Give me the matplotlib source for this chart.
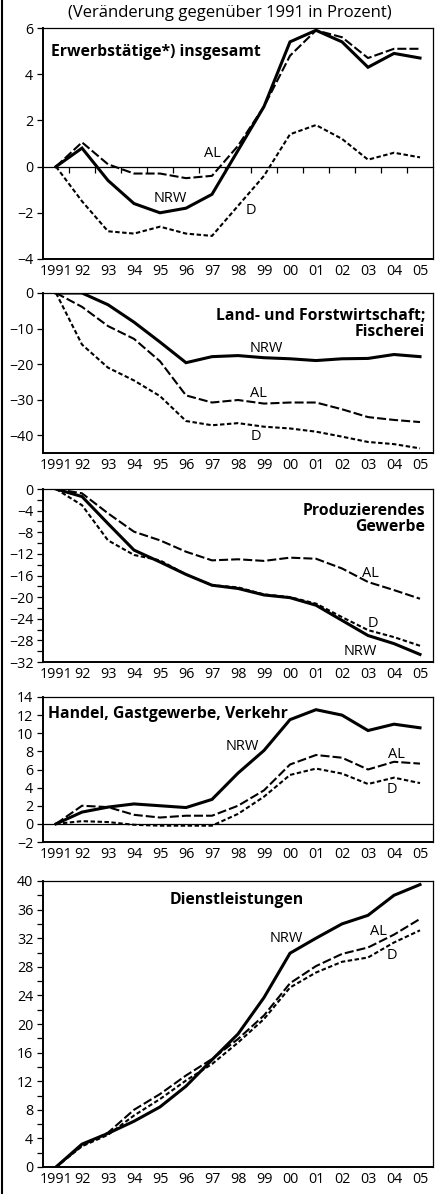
import matplotlib
matplotlib.use("Agg")
import matplotlib.pyplot as plt
from matplotlib.lines import Line2D
from matplotlib.ticker import MultipleLocator, FixedLocator, NullFormatter

plt.rcParams['font.family'] = ['Open Sans', 'DejaVu Sans']
plt.rcParams['lines.scale_dashes'] = False

years = ["1991", "92", "93", "94", "95", "96", "97", "98", "99", "00", "01", "02", "03", "04", "05"]

# Panel 1: Erwerbstätige insgesamt
p1_nrw = [0, 0.8, -0.6, -1.6, -2.0, -1.8, -1.2, 0.7, 2.6, 5.4, 5.9, 5.4, 4.3, 4.9, 4.7]
p1_al = [0, 1.05, 0.1, -0.3, -0.3, -0.5, -0.4, 0.9, 2.6, 4.8, 5.9, 5.6, 4.7, 5.1, 5.1]
p1_d = [0, -1.5, -2.8, -2.9, -2.6, -2.9, -3.0, -1.7, -0.4, 1.4, 1.8, 1.2, 0.3, 0.6, 0.4]

# Panel 2: Land- und Forstwirtschaft; Fischerei
p2_nrw = [0, 0, -3.3, -8.2, -13.8, -19.6, -17.9, -17.6, -18.2, -18.5, -19.0, -18.5, -18.4, -17.3, -17.9]
p2_al = [0, -3.9, -9.3, -12.9, -19.2, -28.8, -30.8, -30.1, -31.1, -30.8, -30.8, -32.7, -34.9, -35.7, -36.3]
p2_d = [0, -14.5, -21.0, -24.6, -29.0, -36.0, -37.2, -36.6, -37.6, -38.1, -39.0, -40.4, -41.9, -42.5, -43.7]

# Panel 3: Produzierendes Gewerbe
p3_nrw = [0, -1.4, -6.4, -11.3, -13.5, -15.8, -17.8, -18.4, -19.6, -20.1, -21.5, -24.3, -27.1, -28.6, -30.6]
p3_al = [0, -0.8, -4.5, -7.9, -9.5, -11.6, -13.2, -13.0, -13.3, -12.7, -12.9, -14.7, -17.2, -18.7, -20.3]
p3_d = [0, -3.0, -9.5, -12.2, -13.2, -15.8, -17.8, -18.2, -19.5, -20.0, -21.2, -23.7, -26.1, -27.4, -29.0]

# Panel 4: Handel, Gastgewerbe, Verkehr
p4_nrw = [0, 1.3, 1.85, 2.2, 2.0, 1.8, 2.7, 5.6, 8.1, 11.5, 12.6, 12.0, 10.3, 11.0, 10.6]
p4_al = [0, 2.0, 1.85, 1.0, 0.7, 0.9, 0.9, 2.0, 3.7, 6.55, 7.6, 7.3, 6.0, 6.85, 6.65]
p4_d = [0, 0.3, 0.2, -0.1, -0.2, -0.2, -0.2, 1.1, 3.0, 5.4, 6.1, 5.55, 4.4, 5.1, 4.5]

# Panel 5: Dienstleistungen
p5_nrw = [0, 3.2, 4.7, 6.4, 8.4, 11.3, 15.0, 18.6, 23.7, 29.9, 32.0, 34.0, 35.2, 38.0, 39.5]
p5_al = [0, 3.0, 4.8, 8.0, 10.2, 12.8, 15.1, 17.9, 21.2, 25.7, 28.1, 29.8, 30.7, 32.5, 34.7]
p5_d = [0, 2.9, 4.5, 7.2, 9.5, 12.1, 14.4, 17.4, 20.7, 25.1, 27.2, 28.7, 29.3, 31.4, 33.1]

W, H = 436, 1194
fig = plt.figure(figsize=(W / 100, H / 100), dpi=100)

def px_axes(top, bottom, left=43, right=433):
    return fig.add_axes([left / W, 1 - bottom / H, (right - left) / W, (bottom - top) / H])

x = list(range(len(years)))
FS = 10.3      # tick labels
LFS = 10.5     # series labels
BFS = 11.3     # bold panel titles

def setup(ax, ylim, major, minor=None):
    ax.set_xlim(-0.5, len(years) - 0.5)
    ax.set_ylim(*ylim)
    ax.set_xticks(x)
    ax.set_xticklabels(years, fontsize=FS)
    ax.tick_params(axis='x', length=0, pad=3.5)
    ax.yaxis.set_major_locator(MultipleLocator(major))
    if minor:
        ax.yaxis.set_minor_locator(MultipleLocator(minor))
    ax.tick_params(axis='y', which='both', length=4.5, width=0.9, direction='out', pad=2.5, labelsize=FS)
    for s in ['left', 'bottom']:
        ax.spines[s].set_linewidth(1.4)
    for s in ['top', 'right']:
        ax.spines[s].set_linewidth(0.9)
    ax.set_facecolor('white')

def draw(ax, nrw, al, d):
    ax.plot(x, d, color='black', lw=1.5, dashes=(3.2, 1.8), solid_capstyle='butt')
    ax.plot(x, al, color='black', lw=1.5, dashes=(6.5, 2.2))
    ax.plot(x, nrw, color='black', lw=2.2, solid_joinstyle='miter')

# Panel 1
ax1 = px_axes(28, 259)
setup(ax1, (-4, 6), 2)
draw(ax1, p1_nrw, p1_al, p1_d)
sec = ax1.secondary_xaxis(0.4)
sec.xaxis.set_major_locator(FixedLocator([i + 0.5 for i in x[:-1]]))
sec.xaxis.set_major_formatter(NullFormatter())
sec.tick_params(axis='x', length=4, width=0.9, direction='out')
sec.spines['bottom'].set_linewidth(0.9)
ax1.text(-0.2, 4.95, "Erwerbstätige*) insgesamt", fontsize=BFS, fontweight='bold', va='center', ha='left')
ax1.text(6.0, 0.56, "AL", fontsize=LFS, ha='center', va='center')
ax1.text(4.4, -1.4, "NRW", fontsize=LFS, ha='center', va='center')
ax1.text(7.5, -1.9, "D", fontsize=LFS, ha='center', va='center')

# Panel 2
ax2 = px_axes(293, 453)
setup(ax2, (-45, 0), 10)
draw(ax2, p2_nrw, p2_al, p2_d)
ax2.text(14.2, -8.8, "Land- und Forstwirtschaft;\nFischerei", fontsize=BFS, fontweight='bold',
         ha='right', va='center', multialignment='right', linespacing=1.0)
ax2.text(8.1, -15.7, "NRW", fontsize=LFS, ha='center', va='center')
ax2.text(7.8, -28.3, "AL", fontsize=LFS, ha='center', va='center')
ax2.text(7.7, -40.3, "D", fontsize=LFS, ha='center', va='center')

# Panel 3
ax3 = px_axes(489, 662)
setup(ax3, (-32, 0), 4, 2)
draw(ax3, p3_nrw, p3_al, p3_d)
ax3.text(14.2, -5.5, "Produzierendes\nGewerbe", fontsize=BFS, fontweight='bold',
         ha='right', va='center', multialignment='right', linespacing=1.0)
ax3.text(12.1, -15.7, "AL", fontsize=LFS, ha='center', va='center')
ax3.text(12.2, -24.8, "D", fontsize=LFS, ha='center', va='center')
ax3.text(11.7, -30.1, "NRW", fontsize=LFS, ha='center', va='center')

# Panel 4
ax4 = px_axes(697, 842)
setup(ax4, (-2, 14), 2)
ax4.axhline(0, color='black', lw=0.9)
draw(ax4, p4_nrw, p4_al, p4_d)
ax4.text(-0.3, 12.1, "Handel, Gastgewerbe, Verkehr", fontsize=BFS, fontweight='bold', ha='left', va='center')
ax4.text(7.15, 8.5, "NRW", fontsize=LFS, ha='center', va='center')
ax4.text(13.1, 7.7, "AL", fontsize=LFS, ha='center', va='center')
ax4.text(12.9, 3.75, "D", fontsize=LFS, ha='center', va='center')

# Panel 5
ax5 = px_axes(881, 1167)
setup(ax5, (0, 40), 4, 2)
draw(ax5, p5_nrw, p5_al, p5_d)
ax5.text(6.96, 37.3, "Dienstleistungen", fontsize=BFS, fontweight='bold', ha='center', va='center')
ax5.text(8.85, 31.9, "NRW", fontsize=LFS, ha='center', va='center')
ax5.text(12.4, 33.0, "AL", fontsize=LFS, ha='center', va='center')
ax5.text(12.9, 29.6, "D", fontsize=LFS, ha='center', va='center')

fig.text(230 / W, 1 - 13 / H, "(Veränderung gegenüber 1991 in Prozent)", fontsize=12,
         ha='center', va='center')

fig.add_artist(Line2D([2 / W, 2 / W], [0, 1], color='black', lw=1.5, transform=fig.transFigure))

fig.savefig("out.png", dpi=100, facecolor='white')
